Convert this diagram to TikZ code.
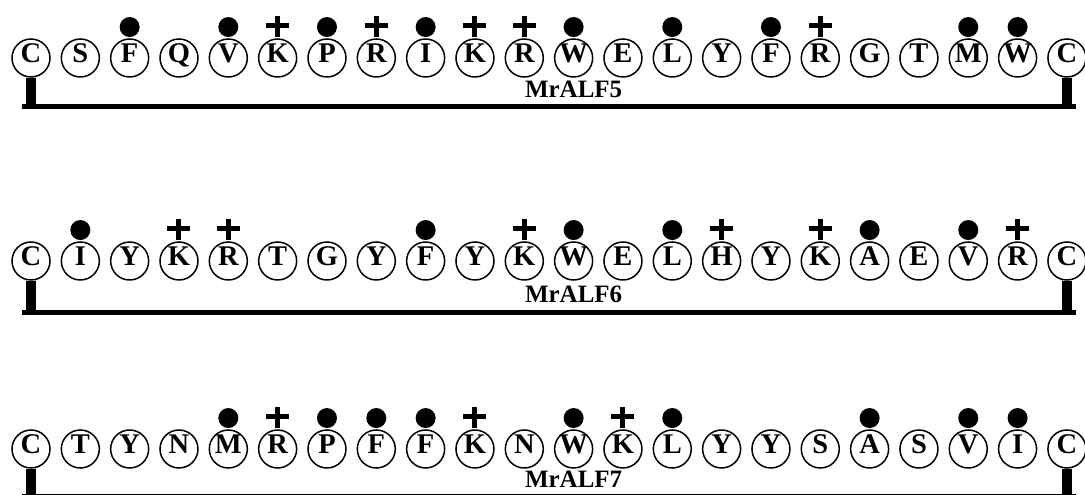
\documentclass[tikz,border=0pt]{standalone}
\usepackage{fontspec}
\setmainfont{Liberation Serif}
\usetikzlibrary{positioning}

\begin{document}
\begin{tikzpicture}[
  x=1pt, y=1pt,
  res/.style={draw, circle, line width=1.5pt, minimum size=38pt, inner sep=0pt,
              font=\fontsize{28.5}{28.5}\selectfont\bfseries,
              text height=17pt, text depth=8pt},
  hyd/.style={fill, circle, minimum size=20pt, inner sep=0pt},
  chg/.style={line width=5pt},
  stem/.style={line width=10pt},
  rail/.style={line width=5pt, shorten <=-9pt, shorten >=-9pt},
  tag/.style={font=\fontsize{25}{25}\selectfont\bfseries, inner sep=0pt}
]
  \useasboundingbox (0,0) rectangle (1085,495);

  % MrALF5
  \foreach \ltr [count=\i from 0] in {C,S,F,Q,V,K,P,R,I,K,R,W,E,L,Y,F,R,G,T,M,W,C}
    \node[res] (a\i) at (31+49.33*\i,437) {\ltr};
  \foreach \i in {2,4,6,8,11,13,15,19,20}
    \node[hyd, above=1pt of a\i] (ha\i) {};
  \foreach \i in {5,7,9,10,16} {
    \draw[chg] ([yshift=1pt]a\i.north) -- ++(0,21);
    \draw[chg] ([yshift=13pt]a\i.north) ++(-11.5,0) -- ++(23,0);
  }
  \coordinate (ra) at (0,388);
  \draw[stem] (a0.south) -- (a0.south |- ra);
  \draw[stem] (a21.south) -- (a21.south |- ra);
  \draw[rail] (a0.south |- ra) -- (a21.south |- ra);
  \node[tag, below=3pt of a11] (ta) {MrALF5};

  % MrALF6
  \foreach \ltr [count=\i from 0] in {C,I,Y,K,R,T,G,Y,F,Y,K,W,E,L,H,Y,K,A,E,V,R,C}
    \node[res] (b\i) at (31+49.33*\i,234) {\ltr};
  \foreach \i in {1,8,11,13,17,19}
    \node[hyd, above=1pt of b\i] (hb\i) {};
  \foreach \i in {3,4,10,14,16,20} {
    \draw[chg] ([yshift=1pt]b\i.north) -- ++(0,21);
    \draw[chg] ([yshift=13pt]b\i.north) ++(-11.5,0) -- ++(23,0);
  }
  \coordinate (rb) at (0,182);
  \draw[stem] (b0.south) -- (b0.south |- rb);
  \draw[stem] (b21.south) -- (b21.south |- rb);
  \draw[rail] (b0.south |- rb) -- (b21.south |- rb);
  \node[tag, below=5pt of b11] (tb) {MrALF6};

  % MrALF7
  \foreach \ltr [count=\i from 0] in {C,T,Y,N,M,R,P,F,F,K,N,W,K,L,Y,Y,S,A,S,V,I,C}
    \node[res] (c\i) at (31+49.33*\i,46) {\ltr};
  \foreach \i in {4,6,7,8,11,13,17,19,20}
    \node[hyd, above=1pt of c\i] (hc\i) {};
  \foreach \i in {5,9,12} {
    \draw[chg] ([yshift=1pt]c\i.north) -- ++(0,21);
    \draw[chg] ([yshift=13pt]c\i.north) ++(-11.5,0) -- ++(23,0);
  }
  \coordinate (rc) at (0,-1.5);
  \draw[stem] (c0.south) -- (c0.south |- rc);
  \draw[stem] (c21.south) -- (c21.south |- rc);
  \draw[rail] (c0.south |- rc) -- (c21.south |- rc);
  \node[tag, below=2pt of c11] (tc) {MrALF7};
\end{tikzpicture}
\end{document}
